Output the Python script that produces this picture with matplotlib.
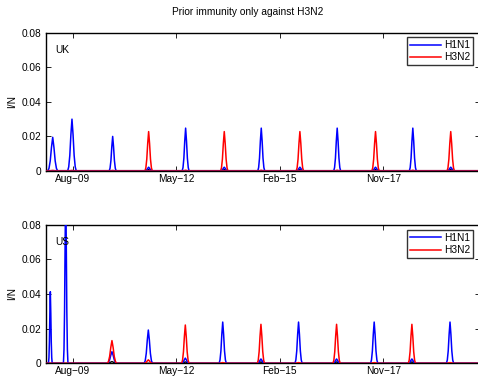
import numpy as np
import matplotlib
matplotlib.use('Agg')
import matplotlib.pyplot as plt
import matplotlib.dates as mdates

plt.rcParams['font.family'] = ['Liberation Sans', 'DejaVu Sans']

# ---------------- data ----------------
title = 'Prior immunity only against H3N2'
x_start = '2008-11-12'
x_end = '2020-05-28'
tick_dates = ['2009-08-01', '2012-05-01', '2015-02-01', '2017-11-01']
tick_labels = ['Aug\u221209', 'May\u221212', 'Feb\u221215', 'Nov\u221217']
y_ticks = [0, 0.02, 0.04, 0.06, 0.08]
y_tick_labels = ['0', '0.02', '0.04', '0.06', '0.08']
series_names = ['H1N1', 'H3N2']

# epidemic peak profile (offset in half-widths, relative height)
shape_offsets = [-1.0, -0.75, -0.5, -0.25, 0.0, 0.25, 0.5, 0.75, 1.0]
shape_values = [0.0, 0.08, 0.3, 0.7, 1.0, 0.7, 0.3, 0.08, 0.0]

uk_peak_dates = ['2009-01-19', '2009-07-25', '2010-08-24', '2011-08-08', '2012-08-01',
                 '2013-08-11', '2014-08-05', '2015-08-15', '2016-08-11', '2017-08-18',
                 '2018-08-15', '2019-08-18']
uk_h1n1 = [0.0195, 0.030, 0.020, 0.0022, 0.0248, 0.0022, 0.0248, 0.0022, 0.0248, 0.0022, 0.0248, 0.0022]
uk_h3n2 = [0.0003, 0.0003, 0.0003, 0.0228, 0.0004, 0.0228, 0.0004, 0.0228, 0.0004, 0.0228, 0.0004, 0.0228]
uk_other = [0, 0, 0, 0.0008, 0, 0.0008, 0, 0.0008, 0, 0.0008, 0, 0.0008]
uk_halfwidth_days = [48, 42, 34, 36, 34, 36, 34, 36, 34, 36, 34, 36]

us_peak_dates = ['2008-12-27', '2009-05-25', '2010-08-17', '2011-08-05', '2012-07-29',
                 '2013-07-27', '2014-08-02', '2015-08-02', '2016-08-05', '2017-08-05',
                 '2018-08-06', '2019-08-11']
us_h1n1 = [0.0413, 0.10, 0.0067, 0.0192, 0.003, 0.0238, 0.0025, 0.0238, 0.0025, 0.0238, 0.0025, 0.0238]
us_h3n2 = [0, 0, 0.0131, 0.002, 0.0221, 0.0004, 0.0225, 0.0004, 0.0225, 0.0004, 0.0225, 0.0004]
us_other = [0, 0, 0.001, 0, 0.0008, 0, 0.0008, 0, 0.0008, 0, 0.0008, 0]
us_halfwidth_days = [18, 22, 45, 40, 36, 35, 35, 35, 35, 35, 35, 35]

# ---------------- helpers ----------------
def dnum(s):
    return mdates.date2num(np.datetime64(s))

def build(dates, heights, hws):
    xs = [dnum(x_start)]
    ys = [0.0]
    for d, h, w in zip(dates, heights, hws):
        c = dnum(d)
        for o, v in zip(shape_offsets, shape_values):
            xs.append(c + o * w)
            ys.append(h * v)
    xs.append(dnum(x_end))
    ys.append(0.0)
    return np.array(xs), np.array(ys)

W, H = 478, 378
fig = plt.figure(figsize=(W / 100, H / 100), dpi=100)
FS = 7.3

left = 45.7 / W
right = 480 / W
panels = [
    dict(top=32.7, bottom=171.0, name='UK', dates=uk_peak_dates, h1=uk_h1n1, h3=uk_h3n2,
         oth=uk_other, hw=uk_halfwidth_days, base='#9a0a45', lab_y=50, leg_y=37.3),
    dict(top=224.7, bottom=363.3, name='US', dates=us_peak_dates, h1=us_h1n1, h3=us_h3n2,
         oth=us_other, hw=us_halfwidth_days, base=None, lab_y=242, leg_y=230.0),
]

for p in panels:
    ax = fig.add_axes([left, 1 - p['bottom'] / H, right - left, (p['bottom'] - p['top']) / H])
    xo, yo = build(p['dates'], p['oth'], p['hw'])
    x1, y1 = build(p['dates'], p['h1'], p['hw'])
    x3, y3 = build(p['dates'], p['h3'], p['hw'])
    ax.plot(xo, yo, color='black', lw=1.0, zorder=2)
    l1, = ax.plot(x1, y1, color='#0000ff', lw=1.1, zorder=3, label=series_names[0])
    l3, = ax.plot(x3, y3, color='#ff0000', lw=1.1, zorder=4, label=series_names[1])
    if p['base']:
        ax.axhline(0, color=p['base'], lw=1.6, zorder=5)
    ax.set_xlim(dnum(x_start), dnum(x_end))
    ax.set_ylim(0, 0.08)
    ax.set_xticks([dnum(d) for d in tick_dates])
    ax.set_xticklabels(tick_labels, fontsize=FS)
    ax.set_yticks(y_ticks)
    ax.set_yticklabels(y_tick_labels, fontsize=FS)
    ax.tick_params(direction='in', length=3.6, width=0.6, top=True, right=True, pad=3)
    ax.tick_params(axis='x', pad=2)
    for s in ax.spines.values():
        s.set_linewidth(1.0)
    ax.set_ylabel('I/N', fontsize=FS)
    aw = (right - left) * W
    ah = p['bottom'] - p['top']
    ax.yaxis.set_label_coords((17 - 45.7) / aw, 0.5)
    ax.text((55 - 45.7) / aw, 1 - (p['lab_y'] - p['top']) / ah, p['name'], fontsize=FS,
            transform=ax.transAxes, ha='left', va='center', zorder=10)
    leg = ax.legend(handles=[l1, l3], loc='upper right',
                    bbox_to_anchor=((473 - 45.7) / aw, 1 - (p['leg_y'] - p['top']) / ah),
                    borderaxespad=0, fontsize=FS, frameon=True, fancybox=False,
                    handlelength=3.0, handletextpad=0.3, labelspacing=0.2,
                    borderpad=0.3, markerfirst=True)
    leg.get_frame().set_edgecolor('black')
    leg.get_frame().set_linewidth(1.0)
    leg.set_zorder(20)

fig.text(247.5 / W, 1 - 12 / H, title, fontsize=FS, ha='center', va='center')

fig.savefig('out.png', dpi=100)
